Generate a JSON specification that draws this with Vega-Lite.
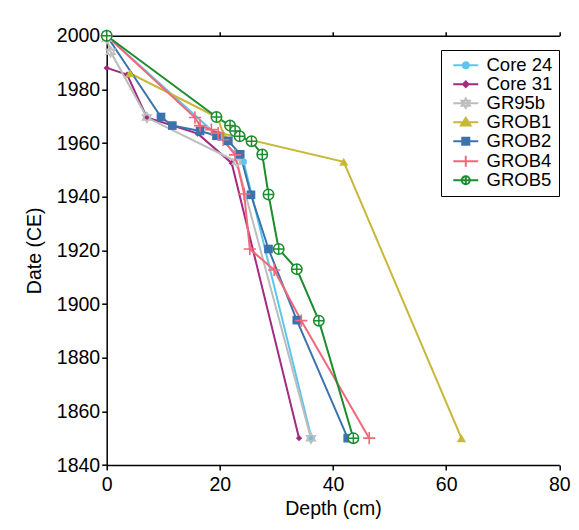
{
  "$schema": "https://vega.github.io/schema/vega-lite/v6.json",
  "autosize": {"type": "none"},
  "padding": {"left": 106.7, "top": 35.7, "right": 19.7, "bottom": 65},
  "width": 452.6,
  "height": 429.3,
  "background": "white",
  "config": {
    "view": {"stroke": null},
    "font": "Liberation Sans",
    "axis": {
      "grid": false,
      "domainColor": "#000000",
      "domainWidth": 1.5,
      "tickColor": "#000000",
      "tickWidth": 1.5,
      "tickSize": 5,
      "labelFont": "Liberation Sans",
      "labelFontSize": 19.5,
      "labelColor": "#000000",
      "titleFont": "Liberation Sans",
      "titleFontSize": 19.5,
      "titleFontWeight": "normal",
      "titleColor": "#000000"
    }
  },
  "data": {
    "values": [
      {"series": "Core 24", "depth": 0, "year": 2000},
      {"series": "Core 24", "depth": 20, "year": 1962},
      {"series": "Core 24", "depth": 24.2, "year": 1953},
      {"series": "Core 24", "depth": 36.2, "year": 1850},
      {"series": "Core 31", "depth": 0, "year": 1988},
      {"series": "Core 31", "depth": 3.6, "year": 1985.5},
      {"series": "Core 31", "depth": 7.1, "year": 1969.5},
      {"series": "Core 31", "depth": 16.1, "year": 1963.5},
      {"series": "Core 31", "depth": 22.1, "year": 1952.5},
      {"series": "Core 31", "depth": 34.0, "year": 1850},
      {"series": "GR95b", "depth": 0, "year": 1999},
      {"series": "GR95b", "depth": 0.7, "year": 1994},
      {"series": "GR95b", "depth": 7.1, "year": 1969.5},
      {"series": "GR95b", "depth": 23, "year": 1953},
      {"series": "GR95b", "depth": 36.1, "year": 1850},
      {"series": "GROB1", "depth": 4.1, "year": 1986},
      {"series": "GROB1", "depth": 19.6, "year": 1969.5},
      {"series": "GROB1", "depth": 20.6, "year": 1963.5},
      {"series": "GROB1", "depth": 41.9, "year": 1953},
      {"series": "GROB1", "depth": 62.7, "year": 1850},
      {"series": "GROB2", "depth": 0, "year": 2000},
      {"series": "GROB2", "depth": 9.6, "year": 1969.7},
      {"series": "GROB2", "depth": 11.6, "year": 1966.5},
      {"series": "GROB2", "depth": 16.5, "year": 1964.5},
      {"series": "GROB2", "depth": 19.4, "year": 1962.7},
      {"series": "GROB2", "depth": 21.5, "year": 1960.8},
      {"series": "GROB2", "depth": 23.6, "year": 1955.8},
      {"series": "GROB2", "depth": 25.5, "year": 1940.7},
      {"series": "GROB2", "depth": 28.6, "year": 1920.5},
      {"series": "GROB2", "depth": 33.6, "year": 1894},
      {"series": "GROB2", "depth": 42.6, "year": 1850},
      {"series": "GROB4", "depth": 0, "year": 2000},
      {"series": "GROB4", "depth": 15.6, "year": 1969.5},
      {"series": "GROB4", "depth": 16.5, "year": 1966.5},
      {"series": "GROB4", "depth": 18.5, "year": 1965},
      {"series": "GROB4", "depth": 19.7, "year": 1963.7},
      {"series": "GROB4", "depth": 20.6, "year": 1961.2},
      {"series": "GROB4", "depth": 22.7, "year": 1955.6},
      {"series": "GROB4", "depth": 24.3, "year": 1941},
      {"series": "GROB4", "depth": 25.3, "year": 1920.5},
      {"series": "GROB4", "depth": 29.6, "year": 1912.7},
      {"series": "GROB4", "depth": 34.4, "year": 1893.8},
      {"series": "GROB4", "depth": 46.4, "year": 1850},
      {"series": "GROB5", "depth": 0, "year": 2000},
      {"series": "GROB5", "depth": 19.4, "year": 1969.7},
      {"series": "GROB5", "depth": 21.8, "year": 1966.5},
      {"series": "GROB5", "depth": 22.7, "year": 1964.5},
      {"series": "GROB5", "depth": 23.5, "year": 1962.5},
      {"series": "GROB5", "depth": 25.6, "year": 1960.7},
      {"series": "GROB5", "depth": 27.5, "year": 1955.7},
      {"series": "GROB5", "depth": 28.6, "year": 1940.8},
      {"series": "GROB5", "depth": 30.4, "year": 1920.5},
      {"series": "GROB5", "depth": 33.6, "year": 1913},
      {"series": "GROB5", "depth": 37.5, "year": 1893.8},
      {"series": "GROB5", "depth": 43.6, "year": 1850}
    ]
  },
  "encoding": {
    "x": {"field": "depth", "type": "quantitative", "scale": {"domain": [0, 80], "nice": false, "zero": false}, "axis": null},
    "y": {"field": "year", "type": "quantitative", "scale": {"domain": [1840, 2000], "nice": false, "zero": false},
          "axis": {"title": "Date (CE)", "tickCount": 8, "format": "d", "labelPadding": 2, "titlePadding": 12}}
  },
  "layer": [
    {
      "data": {"values": [{}]},
      "mark": {"type": "rect", "fill": null, "stroke": "#666666", "strokeWidth": 1.5, "clip": false},
      "encoding": {
        "x": {"datum": -17.3, "type": "quantitative", "axis": null},
        "x2": {"datum": 120},
        "y": {"datum": 2008.5, "type": "quantitative",
              "axis": {"title": "Date (CE)", "tickCount": 8, "format": "d", "labelPadding": 2, "titlePadding": 12}},
        "y2": {"datum": 1800}
      }
    },
    {
      "mark": {"type": "line", "strokeWidth": 2},
      "encoding": {
        "x": {"field": "depth", "type": "quantitative", "scale": {"domain": [0, 80], "nice": false, "zero": false},
              "axis": {"orient": "bottom", "values": [0, 20, 40, 60, 80], "title": "Depth (cm)", "labelPadding": 5, "titlePadding": 6, "labelFlush": false}},
        "color": {"field": "series", "type": "nominal",
                  "scale": {"domain": ["GROB5", "GROB4", "GROB2", "GROB1", "GR95b", "Core 31", "Core 24"],
                            "range": ["#1C8C2E", "#F2677B", "#3D73AD", "#C8B838", "#BDBDBD", "#A32A7E", "#5BC7EE"]},
                  "legend": null},
        "order": {"field": "depth", "type": "quantitative"}
      }
    },
    {
      "transform": [{"filter": "datum.series === 'Core 24'"}],
      "mark": {"type": "point", "shape": "circle", "filled": true, "fill": "#5BC7EE", "opacity": 1, "size": 45},
      "encoding": {
        "x": {"field": "depth", "type": "quantitative",
              "axis": {"orient": "top", "values": [0, 20, 40, 60, 80], "labels": false, "title": null, "tickSize": 4}}
      }
    },
    {
      "transform": [{"filter": "datum.series === 'Core 31'"}],
      "mark": {"type": "point", "shape": "diamond", "filled": true, "fill": "#A32A7E", "opacity": 1, "size": 40}
    },
    {
      "transform": [{"filter": "datum.series === 'GR95b'"}],
      "mark": {"type": "point", "shape": "M0,-1L0.866,0.5L-0.866,0.5ZM0,1L0.866,-0.5L-0.866,-0.5Z", "filled": true, "fill": "#E2E2E2", "stroke": "#BDBDBD", "strokeWidth": 1.3, "opacity": 1, "size": 110}
    },
    {
      "transform": [{"filter": "datum.series === 'GROB1'"}],
      "mark": {"type": "point", "shape": "triangle-up", "filled": true, "fill": "#C8B838", "opacity": 1, "size": 85}
    },
    {
      "transform": [{"filter": "datum.series === 'GROB2'"}],
      "mark": {"type": "point", "shape": "square", "filled": true, "fill": "#3D73AD", "opacity": 1, "size": 75}
    },
    {
      "transform": [{"filter": "datum.series === 'GROB4'"}],
      "mark": {"type": "point", "shape": "M-1,0H1M0,-1V1", "filled": false, "stroke": "#F2677B", "strokeWidth": 1.6, "opacity": 1, "size": 150}
    },
    {
      "transform": [{"filter": "datum.series === 'GROB5'"}],
      "mark": {"type": "point", "shape": "M-1,0A1,1 0 1,0 1,0A1,1 0 1,0 -1,0ZM-1,0H1M0,-1V1", "filled": true, "fill": "#FFFFFF", "stroke": "#1C8C2E", "strokeWidth": 1.5, "opacity": 1, "size": 110}
    },
    {
      "transform": [{"filter": "datum.depth > 1000"}],
      "mark": {"type": "point", "filled": true, "opacity": 1, "strokeWidth": 2},
      "encoding": {
        "fill": {"field": "series", "type": "nominal",
                 "scale": {"domain": ["Core 24", "Core 31", "GR95b", "GROB1", "GROB2", "GROB4", "GROB5"],
                           "range": ["#5BC7EE", "#A32A7E", "#E2E2E2", "#C8B838", "#3D73AD", "#F2677B", "#FFFFFF"]},
                 "legend": {"title": null, "orient": "none", "legendX": 334.3, "legendY": 14.3,
                            "strokeColor": "#000000", "fillColor": "#FFFFFF", "padding": 6,
                            "labelFont": "Liberation Sans", "labelFontSize": 18.5, "labelColor": "#000000",
                            "symbolSize": 256, "symbolStrokeWidth": 2, "labelOffset": 21, "rowPadding": 0}},
        "stroke": {"field": "series", "type": "nominal",
                   "scale": {"domain": ["Core 24", "Core 31", "GR95b", "GROB1", "GROB2", "GROB4", "GROB5"],
                             "range": ["#5BC7EE", "#A32A7E", "#BDBDBD", "#C8B838", "#3D73AD", "#F2677B", "#1C8C2E"]},
                   "legend": {"title": null, "orient": "none", "legendX": 334.3, "legendY": 14.3,
                              "strokeColor": "#000000", "fillColor": "#FFFFFF", "padding": 6,
                              "labelFont": "Liberation Sans", "labelFontSize": 18.5, "labelColor": "#000000",
                              "symbolSize": 256, "symbolStrokeWidth": 2, "labelOffset": 21, "rowPadding": 0}},
        "shape": {"field": "series", "type": "nominal",
                  "scale": {"domain": ["Core 24", "Core 31", "GR95b", "GROB1", "GROB2", "GROB4", "GROB5"],
                            "range": [
                              "M-0.375,0H2.75M0.815,0A0.375,0.375 0 1,0 1.565,0A0.375,0.375 0 1,0 0.815,0Z",
                              "M-0.375,0H2.75M1.19,-0.34L1.53,0L1.19,0.34L0.85,0Z",
                              "M-0.375,0H2.75M1.19,-0.6L1.71,0.3L0.67,0.3ZM1.19,0.6L1.71,-0.3L0.67,-0.3Z",
                              "M-0.375,0H2.75M1.19,-0.55L1.8,0.4L0.58,0.4Z",
                              "M-0.375,0H2.75M0.75,-0.44H1.63V0.44H0.75Z",
                              "M-0.375,0H2.75M1.19,-0.7V0.7",
                              "M-0.375,0H2.75M0.69,0A0.5,0.5 0 1,0 1.69,0A0.5,0.5 0 1,0 0.69,0ZM1.19,-0.5V0.5"
                            ]},
                  "legend": {"title": null, "orient": "none", "legendX": 334.3, "legendY": 14.3,
                             "strokeColor": "#000000", "fillColor": "#FFFFFF", "padding": 6,
                             "labelFont": "Liberation Sans", "labelFontSize": 18.5, "labelColor": "#000000",
                             "symbolSize": 256, "symbolStrokeWidth": 2, "labelOffset": 21, "rowPadding": 0}}
      }
    }
  ]
}
